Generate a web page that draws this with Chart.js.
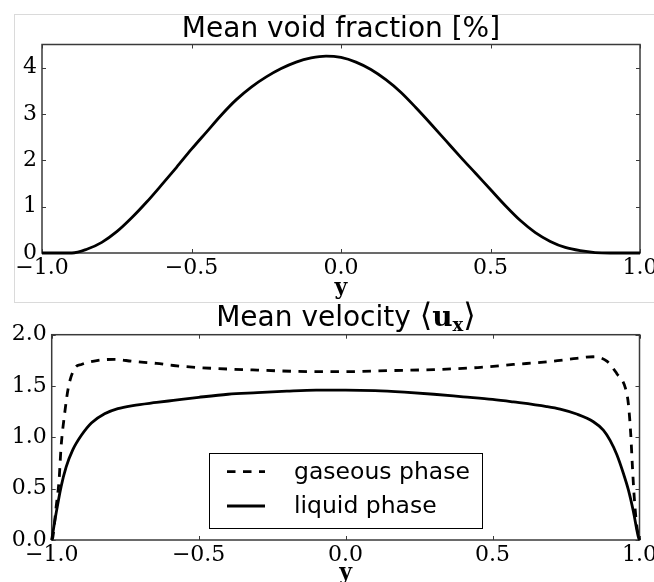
<!DOCTYPE html>
<html>
<head>
<meta charset="utf-8">
<script src="https://cdn.jsdelivr.net/npm/chart.js@4.4.0/dist/chart.umd.min.js"></script>
<style>
html,body{margin:0;padding:0;background:#fff;overflow:hidden;}
#wrap{position:relative;width:654px;height:582px;overflow:hidden;}
.frame{position:absolute;left:14px;top:14px;width:700px;height:289px;border:1.5px solid #dadada;box-sizing:border-box;}
canvas{position:absolute;left:0;}
.ttl{position:absolute;text-align:center;font-family:"DejaVu Sans";color:#000;white-space:nowrap;line-height:28px;font-size:28px;}
.ttl .m{font-family:"DejaVu Serif";}
</style>
</head>
<body>
<div id="wrap">
  <div class="frame"></div>
  <canvas id="voidChart" width="700" height="312" style="top:0;width:700px;height:312px"></canvas>
  <canvas id="velChart" width="700" height="300" style="top:300px;width:700px;height:300px"></canvas>
  <div class="ttl" style="left:42px;width:598px;top:14px">Mean void fraction [%]</div>
  <div class="ttl" style="left:52px;width:588px;top:301px">Mean velocity <span class="m" style="font-size:32px">⟨</span><b class="m">u</b><b class="m" style="font-size:18px;position:relative;top:5px">x</b><span class="m" style="font-size:32px">⟩</span></div>
</div>
<script>
// wall-normal coordinate and values
const voidPos = [-1,-0.95,-0.9,-0.85,-0.8,-0.75,-0.7,-0.65,-0.6,-0.55,-0.5,-0.45,-0.4,-0.35,-0.3,-0.25,-0.2,-0.15,-0.1,-0.05,
  0,0.05,0.1,0.15,0.2,0.25,0.3,0.35,0.4,0.45,0.5,0.55,0.6,0.65,0.7,0.75,0.8,0.85,0.9,0.95,1];
const voidFraction = [0,0,0,0.08,0.23,0.46,0.76,1.10,1.47,1.85,2.24,2.61,2.98,3.31,3.58,3.80,3.98,4.12,4.21,4.25,
  4.22,4.12,3.96,3.74,3.47,3.14,2.79,2.43,2.07,1.72,1.37,1.02,0.70,0.44,0.25,0.12,0.05,0.01,0,0,0];

const gasPos = [-1,-0.996,-0.985,-0.975,-0.968,-0.956,-0.943,-0.922,-0.899,-0.842,-0.786,-0.724,-0.643,-0.586,-0.5,-0.3,-0.1,0,
  0.15,0.3,0.45,0.571,0.684,0.73,0.786,0.843,0.89,0.923,0.951,0.962,0.97,0.976,0.982,0.991,1];
const gasVel = [0,0.03,0.32,0.58,0.91,1.23,1.49,1.67,1.71,1.75,1.76,1.74,1.72,1.70,1.68,1.655,1.64,1.64,
  1.65,1.66,1.68,1.71,1.735,1.75,1.77,1.785,1.74,1.62,1.49,1.33,1.04,0.71,0.42,0.13,0];

const liqPos = [-1,-0.985,-0.968,-0.951,-0.928,-0.899,-0.865,-0.82,-0.775,-0.724,-0.643,-0.586,-0.5,-0.4,-0.3,-0.2,-0.1,0,
  0.1,0.2,0.3,0.4,0.5,0.571,0.684,0.73,0.786,0.843,0.877,0.9,0.923,0.945,0.962,0.979,0.996,1];
const liqVel = [0,0.26,0.52,0.71,0.88,1.02,1.14,1.23,1.28,1.31,1.34,1.36,1.39,1.42,1.435,1.45,1.46,1.46,
  1.455,1.44,1.42,1.395,1.37,1.345,1.30,1.275,1.227,1.152,1.07,0.97,0.83,0.65,0.49,0.28,0.03,0];

const xTicks = [-1,-0.5,0,0.5,1];
const voidTicks = [0,1,2,3,4];
const velTicks = [0,0.5,1,1.5,2];
const seriesNames = ['gaseous phase','liquid phase'];

const pts = (xs, ys) => xs.map((x,i) => ({x, y: ys[i]}));
const fmt1 = v => (v < 0 ? '\u2212' : '') + Math.abs(v).toFixed(1);
const tickFont = {family:'"DejaVu Serif"', size:22};

// matplotlib-like box with inward ticks on all four sides
const frameTicks = {
  id:'frameTicks',
  beforeDatasetsDraw(chart){
    const {ctx, chartArea:a, scales:{x,y}} = chart;
    ctx.save();
    ctx.strokeStyle = '#3a3a3a';
    ctx.lineWidth = 1;
    ctx.beginPath();
    x.ticks.forEach(t => {
      const p = Math.round(x.getPixelForValue(t.value)) + 0.5;
      ctx.moveTo(p, a.bottom); ctx.lineTo(p, a.bottom-4);
      ctx.moveTo(p, a.top); ctx.lineTo(p, a.top+4);
    });
    y.ticks.forEach(t => {
      const p = Math.round(y.getPixelForValue(t.value)) + 0.5;
      ctx.moveTo(a.left, p); ctx.lineTo(a.left+4, p);
      ctx.moveTo(a.right, p); ctx.lineTo(a.right-4, p);
    });
    ctx.stroke();
    ctx.lineWidth = 1.5;
    ctx.strokeRect(a.left, a.top, a.right-a.left, a.bottom-a.top);
    ctx.restore();
  }
};

const boxLegend = {
  id:'boxLegend',
  afterDraw(chart, args, o){
    if(!o || !o.show) return;
    const ctx = chart.ctx;
    ctx.save();
    ctx.fillStyle = '#fff';
    ctx.fillRect(o.left, o.top, o.width, o.height);
    ctx.strokeStyle = '#000';
    ctx.lineWidth = 1;
    ctx.strokeRect(o.left+0.5, o.top+0.5, o.width, o.height);
    chart.data.datasets.forEach((ds,i) => {
      const yy = o.top + o.firstRow + i*o.rowGap;
      ctx.setLineDash(ds.borderDash || []);
      ctx.lineWidth = ds.borderWidth;
      ctx.strokeStyle = ds.borderColor;
      ctx.beginPath();
      ctx.moveTo(o.left+o.sampleX, yy);
      ctx.lineTo(o.left+o.sampleX+o.sampleW, yy);
      ctx.stroke();
      ctx.setLineDash([]);
      ctx.font = '23.5px "DejaVu Sans"';
      ctx.fillStyle = '#000';
      ctx.textBaseline = 'middle';
      ctx.fillText(ds.label, o.left+o.textX, yy+1);
    });
    ctx.restore();
  }
};

function xAxis(height, titlePad){
  return {
    type:'linear', min:-1, max:1,
    afterBuildTicks: s => { s.ticks = xTicks.map(v => ({value:v})); },
    afterFit: s => { s.height = height; },
    grid:{display:false, drawTicks:false},
    border:{display:false},
    ticks:{font:tickFont, color:'#000', padding:2, maxRotation:0, callback: v => fmt1(v)},
    title:{display:true, text:'y', color:'#000', font:{family:'"DejaVu Serif"', size:22, weight:'bold'}, padding:{top:0,bottom:titlePad}}
  };
}
function yAxis(width, max, ticks, cb){
  return {
    type:'linear', min:0, max:max,
    afterBuildTicks: s => { s.ticks = ticks.map(v => ({value:v})); },
    afterFit: s => { s.width = width; },
    grid:{display:false, drawTicks:false},
    border:{display:false},
    ticks:{font:tickFont, color:'#000', padding:5, callback:cb}
  };
}

new Chart(document.getElementById('voidChart'), {
  type:'line',
  data:{datasets:[{
    label:'void fraction', data:pts(voidPos, voidFraction),
    borderColor:'#000', borderWidth:2.8, pointRadius:0, cubicInterpolationMode:'monotone', clip:false
  }]},
  options:{
    responsive:false, animation:false, events:[],
    layout:{padding:{top:44.5, right:60, bottom:0, left:0}},
    scales:{ x:xAxis(59, 10.5), y:yAxis(42, 4.5, voidTicks, v => String(v)) },
    plugins:{legend:{display:false}, tooltip:{enabled:false}}
  },
  plugins:[frameTicks]
});

new Chart(document.getElementById('velChart'), {
  type:'line',
  data:{datasets:[
    {label:seriesNames[0], data:pts(gasPos, gasVel), borderColor:'#000', borderWidth:2.8, borderDash:[8.5,7.5],
     pointRadius:0, cubicInterpolationMode:'monotone', clip:false},
    {label:seriesNames[1], data:pts(liqPos, liqVel), borderColor:'#000', borderWidth:2.8,
     pointRadius:0, cubicInterpolationMode:'monotone', clip:false}
  ]},
  options:{
    responsive:false, animation:false, events:[],
    layout:{padding:{top:34.7, right:60.5, bottom:0, left:0}},
    scales:{ x:xAxis(60, 13.8), y:yAxis(51.7, 2, velTicks, v => fmt1(v)) },
    plugins:{legend:{display:false}, tooltip:{enabled:false},
      boxLegend:{show:true, left:209, top:153, width:273, height:75, firstRow:18.7, rowGap:34.3, sampleX:18, sampleW:38, textX:85}}
  },
  plugins:[frameTicks, boxLegend]
});
</script>
</body>
</html>
